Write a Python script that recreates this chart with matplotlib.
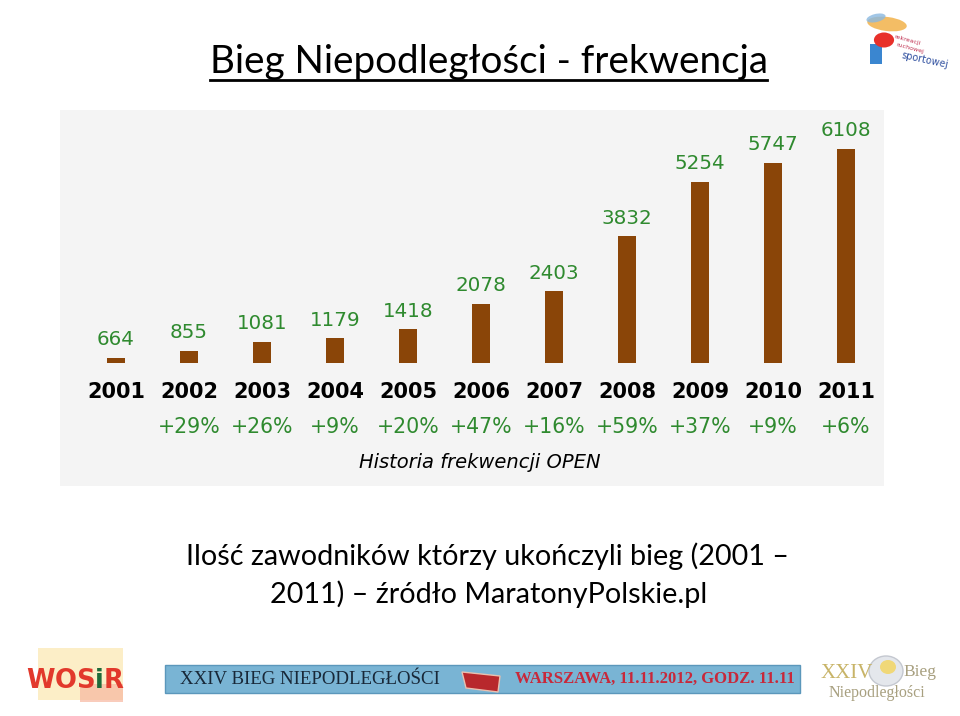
import matplotlib
matplotlib.use("Agg")
import matplotlib.pyplot as plt
from matplotlib.patches import Rectangle, Circle, Ellipse, Polygon
from matplotlib.lines import Line2D

W, H = 960, 716

# ---- data ----
years = ["2001", "2002", "2003", "2004", "2005", "2006", "2007", "2008", "2009", "2010", "2011"]
runners = [664, 855, 1081, 1179, 1418, 2078, 2403, 3832, 5254, 5747, 6108]
growth = [None, 29, 26, 9, 20, 47, 16, 59, 37, 9, 6]

title = "Bieg Niepodległości - frekwencja"
caption_lines = ["Ilość zawodników którzy ukończyli bieg (2001 –",
                 "2011) – źródło MaratonyPolskie.pl"]
chart_note = "Historia frekwencji OPEN"

BAR = "#8a4508"
GREEN = "#2f8a2f"

fig = plt.figure(figsize=(W / 100, H / 100), dpi=100)
fig.patch.set_facecolor("white")


def fx(px):
    return px / W


def fy(py):
    return 1 - py / H


renderer = fig.canvas.get_renderer()


def fit_text(t, width_px):
    bb = t.get_window_extent(renderer=renderer)
    t.set_fontsize(t.get_fontsize() * width_px / bb.width)
    return t


# ---- chart panel ----
fig.add_artist(Rectangle((fx(60), fy(486)), fx(884) - fx(60), fy(110) - fy(486),
                         transform=fig.transFigure, facecolor="#f4f4f4",
                         edgecolor="none", zorder=-5))

ax = fig.add_axes([fx(60), fy(363), fx(884) - fx(60), fy(110) - fy(363)])
ax.set_zorder(2)
ax.set_facecolor("none")
ax.set_xlim(-0.767, 10.52)
ax.set_ylim(534, 7123)
ax.axis("off")

xs = list(range(len(years)))
ax.bar(xs, runners, width=0.235, color=BAR, zorder=2)

for x, v in zip(xs, runners):
    ax.annotate(str(v), (x, v), xytext=(0, 13), textcoords="offset points",
                ha="center", va="center", fontsize=14.3, color=GREEN,
                family="DejaVu Sans")

tr = ax.get_xaxis_transform()
y_year = (363 - 392.5) / 253
y_pct = (363 - 427.5) / 253
for x, yr, g in zip(xs, years, growth):
    ax.text(x, y_year, yr, transform=tr, ha="center", va="center",
            fontsize=15, fontweight="bold", color="black", family="DejaVu Sans",
            clip_on=False)
    if g is not None:
        ax.text(x, y_pct, f"+{g}%", transform=tr, ha="center", va="center",
                fontsize=14.8, color=GREEN, family="DejaVu Sans", clip_on=False)

fig.text(fx(480), fy(462), chart_note, ha="center", va="center", fontsize=14,
         style="italic", color="black", family="DejaVu Sans")

# ---- title ----
t = fig.text(fx(210), fy(73), title, ha="left", va="baseline", fontsize=30,
             family="Lato", color="black")
fit_text(t, 557)
fig.add_artist(Line2D([fx(210), fx(767)], [fy(80), fy(80)], transform=fig.transFigure,
                      color="black", lw=2))

# ---- caption ----
c1 = fig.text(fx(488), fy(556), caption_lines[0], ha="center", va="center",
              fontsize=20, family="Lato", color="black")
fit_text(c1, 603)
c2 = fig.text(fx(489), fy(594), caption_lines[1], ha="center", va="center",
              fontsize=c1.get_fontsize(), family="Lato", color="black")

# ---- top-right logo (approximation) ----
fig.add_artist(Ellipse((fx(887), fy(24)), fx(40), fy(0) - fy(14), angle=-10,
                       transform=fig.transFigure, facecolor="#f2b24a", edgecolor="none",
                       alpha=0.85))
fig.add_artist(Ellipse((fx(876), fy(18)), fx(20), fy(0) - fy(8), angle=20,
                       transform=fig.transFigure, facecolor="#8ab8e0", edgecolor="none",
                       alpha=0.8))
fig.add_artist(Rectangle((fx(870), fy(64)), fx(12), fy(0) - fy(20),
                         transform=fig.transFigure, facecolor="#3a86d0", edgecolor="none"))
fig.add_artist(Circle((fx(884), fy(40)), 0.0105, transform=fig.transFigure,
                      facecolor="#e8302a", edgecolor="none"))
fig.text(fx(893), fy(40), "rekreacji", fontsize=4.5, color="#c03050", rotation=-15,
         va="center")
fig.text(fx(895), fy(48), "ruchowej", fontsize=4.5, color="#c03050", rotation=-15,
         va="center")
fig.text(fx(900), fy(60), "sportowej", fontsize=7, color="#3050a0", rotation=-12,
         va="center", family="DejaVu Sans")

# ---- bottom-left WOSiR logo ----
fig.add_artist(Rectangle((fx(38), fy(700)), fx(85), fy(0) - fy(52),
                         transform=fig.transFigure, facecolor="#fbe7b0", edgecolor="none",
                         alpha=0.7, zorder=0))
fig.add_artist(Rectangle((fx(80), fy(702)), fx(43), fy(0) - fy(18),
                         transform=fig.transFigure, facecolor="#f7b7a0", edgecolor="none",
                         alpha=0.7, zorder=0))
logo_chars = []
for ch, col in zip("WOSiR", ["#e2392c", "#e2392c", "#e2392c", "#1f6b3a", "#e2392c"]):
    logo_chars.append(fig.text(0, fy(688), ch, fontsize=22, fontweight="bold", color=col,
                               family="DejaVu Sans", va="baseline", ha="left",
                               zorder=3))
widths = [c.get_window_extent(renderer=renderer).width for c in logo_chars]
scale = 98 / sum(widths)
logo_x = 26
for c, w in zip(logo_chars, widths):
    c.set_fontsize(22 * scale)
    c.set_x(fx(logo_x))
    logo_x += w * scale

# ---- bottom banner ----
fig.add_artist(Rectangle((fx(165), fy(693)), fx(800) - fx(165), fy(0) - fy(28),
                         transform=fig.transFigure, facecolor="#79b4d4",
                         edgecolor="#5b97bb", lw=1))
b1 = fig.text(fx(180), fy(679), "XXIV BIEG NIEPODLEGŁOŚCI", ha="left", va="center",
              fontsize=12, family="Liberation Serif", color="#182838")
fit_text(b1, 260)
fig.add_artist(Polygon([(fx(462), fy(672)), (fx(500), fy(676)), (fx(498), fy(692)),
                        (fx(466), fy(688))], closed=True, transform=fig.transFigure,
                       facecolor="#b8282c", edgecolor="#e8c0b0", lw=1))
b2 = fig.text(fx(515), fy(679), "WARSZAWA, 11.11.2012, GODZ. 11.11", ha="left",
              va="center", fontsize=12, family="Liberation Serif", color="#c8283a",
              fontweight="bold")
fit_text(b2, 280)

# ---- bottom-right logo ----
fig.add_artist(Ellipse((fx(886), fy(671)), fx(34), fy(0) - fy(30), transform=fig.transFigure,
                       facecolor="#e4e7ec", edgecolor="#c4c8d0", lw=1, zorder=0))
fig.add_artist(Ellipse((fx(888), fy(667)), fx(16), fy(0) - fy(14), transform=fig.transFigure,
                       facecolor="#f0d878", edgecolor="none", zorder=0))
fig.text(fx(821), fy(678), "XXIV", fontsize=15, family="Liberation Serif",
         color="#c8b468", va="baseline", ha="left", zorder=3)
fig.text(fx(903), fy(676), "Bieg", fontsize=12.5, family="Liberation Serif",
         color="#a8a080", va="baseline", ha="left", zorder=3)
fig.text(fx(829), fy(697), "Niepodległości", fontsize=11.5, family="Liberation Serif",
         color="#a8a080", va="baseline", ha="left", zorder=3)

fig.savefig("out.png", dpi=100)
